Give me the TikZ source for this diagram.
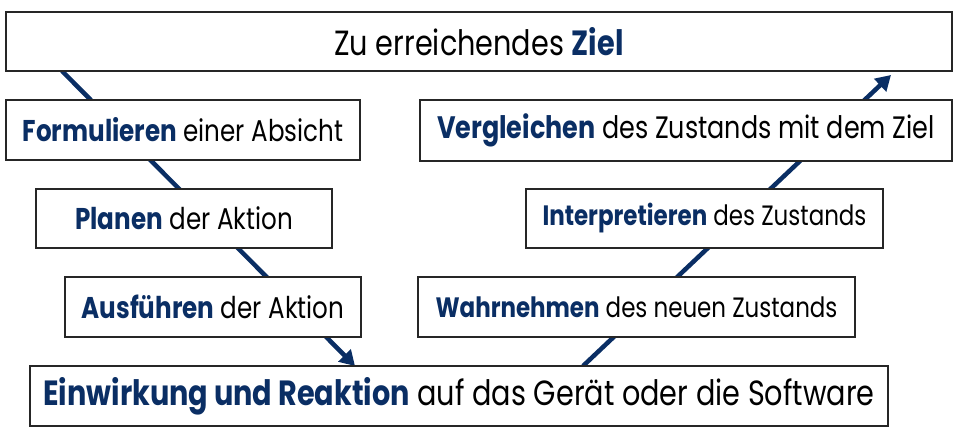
\documentclass[tikz,border=0pt]{standalone}
\usepackage{fontspec}
\setmainfont{Poppins}[FakeStretch=0.82]
\usetikzlibrary{arrows.meta}
\definecolor{navy}{HTML}{0A2E64}
\tikzset{
  box/.style={draw=black!85, line width=1.3pt, fill=white, inner sep=0pt, font=\fontsize{30}{34}\selectfont},
  bigbox/.style={box, font=\fontsize{35}{40}\selectfont},
  widebox/.style={box, font=\fontsize{31}{35}\selectfont},
  smallbox/.style={box, font=\fontsize{28}{32}\selectfont},
  flow/.style={draw=navy, line width=4.5pt, -{Triangle[length=15pt,width=17pt]}}
}
\newcommand{\kwd}[1]{\textbf{\color{navy}#1}}
\begin{document}
\begin{tikzpicture}[x=1pt,y=1pt]
\useasboundingbox (0,0) rectangle (965,435);
% connector end points
\coordinate (l1) at (62,364);
\coordinate (l2) at (355,69);
\coordinate (r1) at (583,69);
\coordinate (r2) at (891,360);
\draw[flow] (l1) -- (l2);
\draw[flow] (r1) -- (r2);
% boxes
\node[bigbox, minimum width=946, minimum height=59] (ziel) at (479,393.5) {Zu erreichendes \kwd{Ziel}};
\node[box, minimum width=354, minimum height=60] (form) at (183,305) {\kwd{Formulieren} einer Absicht};
\node[box, minimum width=296, minimum height=59] (plan) at (184,216.5) {\kwd{Planen} der Aktion};
\node[box, minimum width=296, minimum height=60] (ausf) at (213,128) {\kwd{Ausführen} der Aktion};
\node[bigbox, minimum width=858, minimum height=60] (einw) at (459,39) {\kwd{Einwirkung und Reaktion} auf das Gerät oder die Software};
\node[widebox, minimum width=532, minimum height=61] (vergl) at (686,304.5) {\kwd{Vergleichen} des Zustands mit dem Ziel};
\node[smallbox, minimum width=357, minimum height=59] (interp) at (704.5,216.5) {\kwd{Interpretieren} des Zustands};
\node[smallbox, minimum width=437, minimum height=60] (wahr) at (636.5,128) {\kwd{Wahrnehmen} des neuen Zustands};
\end{tikzpicture}
\end{document}
